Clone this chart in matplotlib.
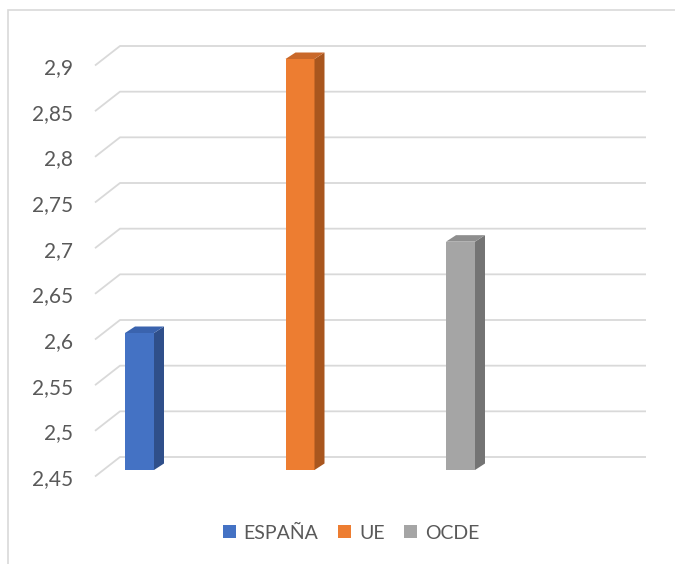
import matplotlib
matplotlib.use("Agg")
import matplotlib.pyplot as plt
from matplotlib.patches import Polygon, Patch, Rectangle
from matplotlib.lines import Line2D
from matplotlib.transforms import IdentityTransform, ScaledTranslation

plt.rcParams['font.family'] = ['Lato', 'DejaVu Sans']

categories = ["ESPAÑA", "UE", "OCDE"]
values = [2.6, 2.9, 2.7]
front_colors = ["#4472C4", "#ED7D31", "#A5A5A5"]
side_colors = ["#2F4F8A", "#A9561E", "#747474"]
top_colors = ["#3A63AE", "#C9682A", "#8E8E8E"]
yticks = [2.45, 2.5, 2.55, 2.6, 2.65, 2.7, 2.75, 2.8, 2.85, 2.9]
ytick_labels = ["2,45", "2,5", "2,55", "2,6", "2,65", "2,7", "2,75", "2,8", "2,85", "2,9"]
ymin, ymax = 2.45, 2.9

W, H = 675, 564
fig = plt.figure(figsize=(W / 100, H / 100), dpi=100)
fig.patch.set_facecolor("white")

# axes placed so bars' front plane: 2.45 -> y=470px, 2.9 -> y=59px (from top)
left_px, right_px = 95, 646
ax = fig.add_axes([left_px / W, (H - 470) / H, (right_px - left_px) / W, (470 - 59) / H])
ax.set_facecolor("none")
x0_px, step_px = 139.5, 160.5
ax.set_xlim((left_px - x0_px) / step_px, (right_px - x0_px) / step_px)
ax.set_ylim(ymin, ymax)
for s in ax.spines.values():
    s.set_visible(False)
ax.set_xticks([])
ax.set_yticks(yticks)
ax.set_yticklabels(ytick_labels)
ax.tick_params(axis="y", length=0, pad=15.8, labelsize=15, labelcolor="#595959")
off = ScaledTranslation(0, -7 / 100, fig.dpi_scale_trans)
for lab in ax.get_yticklabels():
    lab.set_transform(lab.get_transform() + off)

grid_color = "#D9D9D9"
# gridlines (front diagonal + back wall horizontal)
for v in yticks:
    yd = ax.transData.transform((0, v))[1]
    xs = [95, 120, 646]
    ys = [yd - 6.5, yd + 13, yd + 13]
    ln = Line2D(xs, ys, transform=IdentityTransform(), color=grid_color, lw=1.3,
                solid_capstyle="butt", zorder=0)
    fig.add_artist(ln)

# bars with 3D faces
bw = 29 / step_px
dx, dy = 10, 6.5
xpos = list(range(len(categories)))
ax.bar(xpos, [v - ymin for v in values], bottom=ymin, width=bw, color=front_colors,
       zorder=3, clip_on=False)
for i, v in enumerate(values):
    xl, yb = ax.transData.transform((xpos[i] - bw / 2, ymin))
    xr, yt = ax.transData.transform((xpos[i] + bw / 2, v))
    side = Polygon([[xr, yb], [xr, yt], [xr + dx, yt + dy], [xr + dx, yb + dy]],
                   closed=True, transform=IdentityTransform(), facecolor=side_colors[i],
                   edgecolor="none", zorder=2)
    fig.add_artist(side)
    top = Polygon([[xl, yt], [xr, yt], [xr + dx, yt + dy], [xl + dx, yt + dy]],
                  closed=True, transform=IdentityTransform(), facecolor=top_colors[i],
                  edgecolor="none", zorder=2)
    fig.add_artist(top)

# chart border (extends beyond right/bottom)
fig.add_artist(Rectangle((8 / W, -0.1), 1.2, (H - 10) / H + 0.1, transform=fig.transFigure,
                         fill=False, edgecolor=grid_color, lw=1.2))

handles = [Patch(facecolor=c, edgecolor="none") for c in front_colors]
leg = fig.legend(handles, categories, loc="center", bbox_to_anchor=(351 / W, (H - 533) / H),
                 ncol=3, frameon=False, fontsize=14, handlelength=0.68, handleheight=0.68,
                 handletextpad=0.4, columnspacing=1.0, borderaxespad=0)
for t in leg.get_texts():
    t.set_color("#595959")

fig.savefig("out.png", dpi=100, facecolor="white")
